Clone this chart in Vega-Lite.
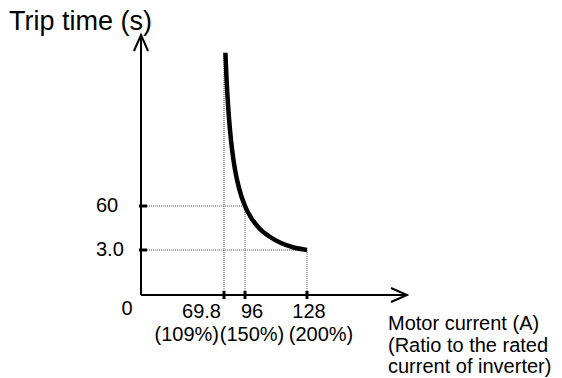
{
  "$schema": "https://vega.github.io/schema/vega-lite/v6.json",
  "width": 266,
  "height": 260,
  "autosize": "none",
  "padding": {"left": 141, "top": 35, "right": 155, "bottom": 83},
  "background": "white",
  "config": {
    "view": {"stroke": null},
    "text": {"font": "Liberation Sans", "fontSize": 20, "color": "black"}
  },
  "datasets": {
    "curve": [
      {"current": 71.55, "time": 544},
      {"current": 72.92, "time": 464},
      {"current": 74.79, "time": 381},
      {"current": 77.29, "time": 300},
      {"current": 79.78, "time": 240},
      {"current": 83.52, "time": 175},
      {"current": 88.51, "time": 116.5},
      {"current": 96.0, "time": 60},
      {"current": 99.1, "time": 45},
      {"current": 103.23, "time": 31.6},
      {"current": 108.39, "time": 20.8},
      {"current": 114.58, "time": 12.1},
      {"current": 120.77, "time": 6.6},
      {"current": 128.0, "time": 3.0}
    ],
    "guides": [
      {"current": 0, "current2": 96, "time": 60, "time2": 60},
      {"current": 0, "current2": 128, "time": 3, "time2": 3},
      {"current": 69.8, "current2": 69.8, "time": 0, "time2": 544},
      {"current": 96, "current2": 96, "time": 0, "time2": 60},
      {"current": 128, "current2": 128, "time": 0, "time2": 3}
    ],
    "axes": [
      {"current": 0, "current2": 0, "time": 0, "time2": 600},
      {"current": 0, "current2": 180, "time": 0, "time2": 0}
    ],
    "xticks": [
      {"current": 69.8, "time": 0},
      {"current": 96, "time": 0},
      {"current": 128, "time": 0}
    ],
    "yticks": [
      {"current": 0, "time": 3},
      {"current": 0, "time": 60}
    ]
  },
  "encoding": {
    "x": {
      "field": "current",
      "type": "quantitative",
      "axis": null,
      "scale": {"domain": [0, 69.8, 96, 128, 180], "range": [0, 83, 104, 166, 266], "nice": false, "zero": false}
    },
    "y": {
      "field": "time",
      "type": "quantitative",
      "axis": null,
      "scale": {"domain": [0, 3, 60, 600], "range": [260, 215, 171, 0], "nice": false, "zero": false}
    }
  },
  "layer": [
    {
      "data": {"name": "guides"},
      "mark": {"type": "rule", "color": "#555555", "strokeWidth": 1, "strokeDash": [1, 1]},
      "encoding": {"x2": {"field": "current2"}, "y2": {"field": "time2"}}
    },
    {
      "data": {"name": "curve"},
      "mark": {"type": "line", "interpolate": "monotone", "color": "black", "strokeWidth": 4.5},
      "encoding": {}
    },
    {
      "data": {"name": "axes"},
      "mark": {"type": "rule", "color": "black", "strokeWidth": 2},
      "encoding": {"x2": {"field": "current2"}, "y2": {"field": "time2"}}
    },
    {
      "data": {"name": "xticks"},
      "mark": {"type": "tick", "orient": "vertical", "size": 8, "thickness": 3, "color": "black", "opacity": 1},
      "encoding": {}
    },
    {
      "data": {"name": "yticks"},
      "mark": {"type": "tick", "orient": "horizontal", "size": 8, "thickness": 3, "color": "black", "opacity": 1, "xOffset": 2},
      "encoding": {}
    },
    {
      "data": {"values": [{"current": 0, "time": 600}]},
      "mark": {"type": "point", "shape": "M-0.44,1L0,0L0.44,1", "size": 1024, "filled": false, "strokeWidth": 2, "color": "black", "opacity": 1},
      "encoding": {}
    },
    {
      "data": {"values": [{"current": 180, "time": 0}]},
      "mark": {"type": "point", "shape": "M-1,-0.44L0,0L-1,0.44", "size": 1024, "filled": false, "strokeWidth": 2, "color": "black", "opacity": 1},
      "encoding": {}
    },
    {
      "data": {"values": [{"current": 0, "time": 600, "label": "Trip time (s)"}]},
      "mark": {"type": "text", "align": "right", "baseline": "alphabetic", "dx": 11, "dy": -5, "fontSize": 27},
      "encoding": {"text": {"field": "label"}}
    },
    {
      "data": {"values": [{"current": 0, "time": 0, "label": "0"}]},
      "mark": {"type": "text", "align": "center", "baseline": "alphabetic", "dx": -14, "dy": 20},
      "encoding": {"text": {"field": "label"}}
    },
    {
      "data": {"values": [{"current": 0, "time": 60, "label": "60"}, {"current": 0, "time": 3, "label": "3.0"}]},
      "mark": {"type": "text", "align": "left", "baseline": "middle", "dx": -45},
      "encoding": {"text": {"field": "label"}}
    },
    {
      "data": {"values": [{"current": 69.8, "time": 0, "label": "69.8"}]},
      "mark": {"type": "text", "align": "right", "baseline": "alphabetic", "dx": -3, "dy": 23},
      "encoding": {"text": {"field": "label"}}
    },
    {
      "data": {"values": [{"current": 69.8, "time": 0, "label": "(109%)"}]},
      "mark": {"type": "text", "align": "right", "baseline": "alphabetic", "dx": -5, "dy": 46},
      "encoding": {"text": {"field": "label"}}
    },
    {
      "data": {"values": [{"current": 96, "time": 0, "label": "96"}]},
      "mark": {"type": "text", "align": "center", "baseline": "alphabetic", "dx": 7, "dy": 23},
      "encoding": {"text": {"field": "label"}}
    },
    {
      "data": {"values": [{"current": 96, "time": 0, "label": "(150%)"}]},
      "mark": {"type": "text", "align": "center", "baseline": "alphabetic", "dx": 7, "dy": 46},
      "encoding": {"text": {"field": "label"}}
    },
    {
      "data": {"values": [{"current": 128, "time": 0, "label": "128"}]},
      "mark": {"type": "text", "align": "center", "baseline": "alphabetic", "dx": 2, "dy": 23},
      "encoding": {"text": {"field": "label"}}
    },
    {
      "data": {"values": [{"current": 128, "time": 0, "label": "(200%)"}]},
      "mark": {"type": "text", "align": "center", "baseline": "alphabetic", "dx": 14, "dy": 46},
      "encoding": {"text": {"field": "label"}}
    },
    {
      "data": {"values": [{"current": 180, "time": 0, "label": ["Motor current (A)", "(Ratio to the rated", "current of inverter)"]}]},
      "mark": {"type": "text", "align": "left", "baseline": "alphabetic", "dx": -19, "dy": 35, "lineHeight": 21.5},
      "encoding": {"text": {"field": "label"}}
    }
  ]
}
